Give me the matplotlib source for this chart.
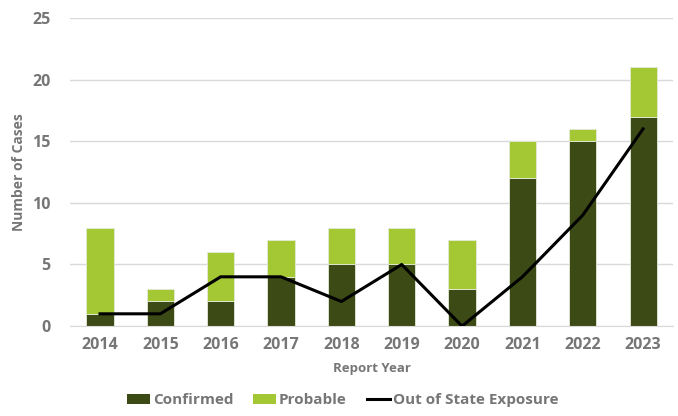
import numpy as np
import matplotlib
matplotlib.use("Agg")
import matplotlib.pyplot as plt
from matplotlib.lines import Line2D
from matplotlib.patches import Patch

years = ["2014", "2015", "2016", "2017", "2018", "2019", "2020", "2021", "2022", "2023"]
confirmed = [1, 2, 2, 4, 5, 5, 3, 12, 15, 17]
probable = [7, 1, 4, 3, 3, 3, 4, 3, 1, 4]
out_of_state = [1, 1, 4, 4, 2, 5, 0, 4, 9, 16]

dark_green = "#3c4a15"
light_green = "#a3c834"
text_gray = "#767676"

plt.rcParams["font.family"] = ["Open Sans", "DejaVu Sans"]

fig = plt.figure(figsize=(6.78, 4.16), dpi=100)
ax = fig.add_axes([0.103, 0.216, 0.890, 0.741])

x = np.arange(len(years))
ax.bar(x, confirmed, width=0.45, color=dark_green,
       edgecolor="#e4ead8", linewidth=0.6, zorder=2)
ax.bar(x, probable, width=0.45, bottom=confirmed, color=light_green,
       edgecolor="#e4ead8", linewidth=0.6, zorder=2)
ax.plot(x, out_of_state, color="black", linewidth=2.2, zorder=3)

ax.set_xlim(-0.5, len(years) - 0.5)
ax.set_ylim(0, 25)
ax.set_yticks([0, 5, 10, 15, 20, 25])
ax.set_xticks(x)
ax.set_xticklabels(years)
ax.yaxis.grid(True, color="#d9d9d9", linewidth=1, zorder=0)
ax.set_axisbelow(True)

for side in ["top", "right", "left"]:
    ax.spines[side].set_visible(False)
ax.spines["bottom"].set_color("#d9d9d9")
ax.tick_params(axis="both", length=0, labelsize=11.5, labelcolor=text_gray, pad=8)
ax.tick_params(axis="y", pad=14)
for lbl in ax.get_xticklabels() + ax.get_yticklabels():
    lbl.set_fontweight("bold")

ax.set_xlabel("Report Year", fontsize=9.5, color=text_gray, fontweight="bold", labelpad=6)
ax.set_ylabel("Number of Cases", fontsize=10, color=text_gray, fontweight="bold", labelpad=4)

handles = [
    Patch(facecolor=dark_green, edgecolor="none"),
    Patch(facecolor=light_green, edgecolor="none"),
    Line2D([0], [0], color="black", linewidth=2.2),
]
fig.legend(handles, ["Confirmed", "Probable", "Out of State Exposure"],
           loc="lower center", bbox_to_anchor=(0.505, -0.012), ncol=3, frameon=False,
           prop={"size": 11, "weight": "bold"}, labelcolor=text_gray,
           handlelength=1.5, handletextpad=0.2, columnspacing=1.3)

fig.savefig("out.png", dpi=100)
